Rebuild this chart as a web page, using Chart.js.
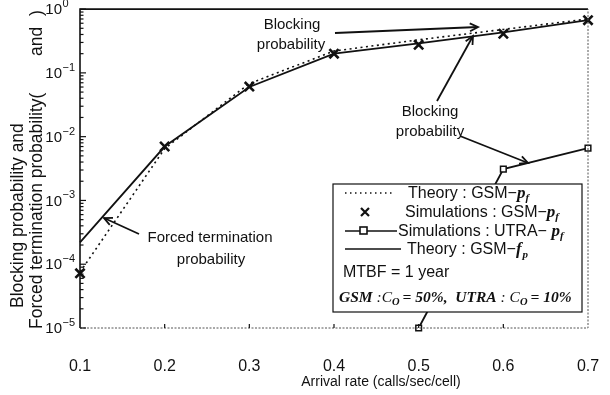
<!DOCTYPE html>
<html>
<head>
<meta charset="utf-8">
<script src="https://cdn.jsdelivr.net/npm/chart.js@4.4.0/dist/chart.umd.min.js"></script>
<style>
  html, body { margin: 0; padding: 0; background: #fff; }
  #wrap { width: 610px; height: 395px; position: relative; }
</style>
</head>
<body>
<div id="wrap"><canvas id="myChart"></canvas></div>
<script>
// data
const arrivalRate = [0.1, 0.2, 0.3, 0.4, 0.5, 0.6, 0.7];
const theoryGsmPf = [7.5e-5, 6.5e-3, 0.068, 0.22, 0.33, 0.48, 0.70];
const simGsmPf    = [7.2e-5, 7.0e-3, 0.061, 0.20, 0.275, 0.41, 0.67];
const theoryGsmFp = [2.2e-4, 7.0e-3, 0.060, 0.20, 0.29, 0.43, 0.67];
const utraRate    = [0.5, 0.6, 0.7];
const simUtraPf   = [1.0e-5, 3.1e-3, 6.6e-3];
const yDecades    = [-5, -4, -3, -2, -1, 0];

const SANS = '"Liberation Sans", Arial, sans-serif';
const SERIF = '"Liberation Serif", "Times New Roman", serif';

function pts(xs, ys) {
  return xs.map((x, i) => ({ x: x, y: ys[i] }));
}

// draws a run of text pieces with different fonts
function rich(ctx, x, y, parts) {
  ctx.textAlign = 'left';
  ctx.textBaseline = 'alphabetic';
  parts.forEach(p => {
    ctx.font = p.f;
    ctx.fillText(p.t, x, y + (p.dy || 0));
    x += ctx.measureText(p.t).width + (p.gap || 0);
  });
}

function arrow(ctx, x1, y1, x2, y2) {
  ctx.beginPath();
  ctx.moveTo(x1, y1);
  ctx.lineTo(x2, y2);
  ctx.stroke();
  const a = Math.atan2(y2 - y1, x2 - x1);
  const L = 9, w = 0.45;
  ctx.beginPath();
  ctx.moveTo(x2 - L * Math.cos(a - w), y2 - L * Math.sin(a - w));
  ctx.lineTo(x2, y2);
  ctx.lineTo(x2 - L * Math.cos(a + w), y2 - L * Math.sin(a + w));
  ctx.stroke();
}

const decor = {
  id: 'decor',
  afterDatasetsDraw(chart) {
    const ctx = chart.ctx;
    const xs = chart.scales.x, ys = chart.scales.y;
    const ca = chart.chartArea;
    ctx.save();
    ctx.fillStyle = '#111';
    ctx.strokeStyle = '#111';

    // frame: solid top/left, dotted bottom/right
    ctx.lineWidth = 1.6;
    ctx.beginPath();
    ctx.moveTo(ca.left, ca.bottom);
    ctx.lineTo(ca.left, ca.top);
    ctx.lineTo(ca.right, ca.top);
    ctx.stroke();
    ctx.lineWidth = 1;
    ctx.strokeStyle = '#555';
    ctx.setLineDash([2, 1.5]);
    ctx.beginPath();
    ctx.moveTo(ca.left, ca.bottom);
    ctx.lineTo(ca.right, ca.bottom);
    ctx.lineTo(ca.right, ca.top);
    ctx.stroke();
    ctx.setLineDash([]);
    ctx.strokeStyle = '#111';

    // inward ticks on the y axis
    ctx.lineWidth = 1.2;
    yDecades.forEach(d => {
      for (let m = 1; m <= 9; m++) {
        const v = m * Math.pow(10, d);
        if (v > 1.0001) break;
        const py = ys.getPixelForValue(v);
        ctx.beginPath();
        ctx.moveTo(ca.left, py);
        ctx.lineTo(ca.left + (m === 1 ? 6 : 3.5), py);
        ctx.stroke();
      }
    });
    // inward ticks on the x axis
    arrivalRate.slice(1, -1).forEach(v => {
      const px = xs.getPixelForValue(v);
      ctx.beginPath();
      ctx.moveTo(px, ca.bottom);
      ctx.lineTo(px, ca.bottom - 4);
      ctx.stroke();
    });

    // y tick labels 10^n
    yDecades.forEach(d => {
      const py = ys.getPixelForValue(Math.pow(10, d));
      ctx.font = '15px ' + SANS;
      ctx.textAlign = 'right';
      ctx.textBaseline = 'middle';
      ctx.fillText('10', 62, py + 1);
      ctx.font = '11px ' + SANS;
      ctx.textAlign = 'left';
      ctx.fillText(d === 0 ? '0' : '\u2212' + Math.abs(d), 62.5, py - 5);
    });

    // axis titles
    ctx.font = '14px ' + SANS;
    ctx.textAlign = 'center';
    ctx.textBaseline = 'middle';
    ctx.fillText('Arrival rate (calls/sec/cell)', 381, 382);

    ctx.save();
    ctx.rotate(-Math.PI / 2);
    ctx.font = '17.5px ' + SANS;
    ctx.textAlign = 'left';
    ctx.textBaseline = 'middle';
    ctx.fillText('Blocking probability and', -308, 18);
    ctx.fillText('Forced termination probability(', -329, 37);
    ctx.fillText('and', -56, 37);
    ctx.fillText(')', -16, 37);
    ctx.restore();

    // annotations
    ctx.font = '15px ' + SANS;
    ctx.textAlign = 'center';
    ctx.textBaseline = 'middle';
    ctx.fillText('Blocking', 292, 25);
    ctx.fillText('probability', 291, 45);
    ctx.fillText('Blocking', 430, 112);
    ctx.fillText('probability', 430, 132);
    ctx.fillText('Forced termination', 210, 238);
    ctx.fillText('probability', 211, 260);
    ctx.lineWidth = 1.8;
    arrow(ctx, 335, 33, 478, 27);
    arrow(ctx, 437, 101, 473, 36);
    arrow(ctx, 460, 136, 528, 163);
    arrow(ctx, 139, 234, 104, 218);

    // legend box
    const bx = 333, by = 184, bw = 249, bh = 128;
    ctx.fillStyle = '#fff';
    ctx.fillRect(bx, by, bw, bh);
    ctx.lineWidth = 1.2;
    ctx.strokeRect(bx, by, bw, bh);
    ctx.fillStyle = '#111';

    const sub = 'italic bold 11px ' + SERIF;
    const pItal = 'italic bold 17px ' + SERIF;
    const txt = '16px ' + SANS;

    // row 1: dotted theory pf
    ctx.lineWidth = 1.5;
    ctx.setLineDash([1.5, 3.5]);
    ctx.beginPath(); ctx.moveTo(345, 193); ctx.lineTo(394, 193); ctx.stroke();
    ctx.setLineDash([]);
    rich(ctx, 408, 198, [
      { t: 'Theory : GSM\u2212', f: txt },
      { t: 'p', f: pItal },
      { t: 'f', f: sub, dy: 3 }
    ]);
    // row 2: simulation marker
    ctx.lineWidth = 2.2;
    ctx.beginPath();
    ctx.moveTo(361, 208); ctx.lineTo(369, 216);
    ctx.moveTo(369, 208); ctx.lineTo(361, 216);
    ctx.stroke();
    rich(ctx, 405, 217, [
      { t: 'Simulations : GSM\u2212', f: txt },
      { t: 'p', f: pItal },
      { t: 'f', f: sub, dy: 3 }
    ]);
    // row 3: UTRA line with square
    ctx.lineWidth = 1.6;
    ctx.beginPath(); ctx.moveTo(345, 231); ctx.lineTo(397, 231); ctx.stroke();
    ctx.fillStyle = '#fff';
    ctx.fillRect(360, 227, 7, 7);
    ctx.strokeRect(360, 227, 7, 7);
    ctx.fillStyle = '#111';
    rich(ctx, 398, 236, [
      { t: 'Simulations : UTRA\u2212 ', f: txt },
      { t: 'p', f: pItal },
      { t: 'f', f: sub, dy: 3 }
    ]);
    // row 4: solid theory fp
    ctx.beginPath(); ctx.moveTo(345, 249); ctx.lineTo(401, 249); ctx.stroke();
    rich(ctx, 407, 254, [
      { t: 'Theory : GSM\u2212', f: txt },
      { t: 'f', f: pItal, gap: 1 },
      { t: 'p', f: sub, dy: 4 }
    ]);
    rich(ctx, 343, 277, [{ t: 'MTBF = 1 year', f: txt }]);
    const it = 'italic bold 15.5px ' + SERIF;
    const itn = 'italic 15.5px ' + SERIF;
    const sb = 'italic bold 10.5px ' + SERIF;
    rich(ctx, 339, 302, [
      { t: 'GSM', f: it },
      { t: ' :C', f: itn },
      { t: 'O', f: sb, dy: 3, gap: 3 },
      { t: '= 50%,  ', f: it },
      { t: 'UTRA', f: it },
      { t: ' : C', f: itn },
      { t: 'O', f: sb, dy: 3, gap: 3 },
      { t: '= 10%', f: it }
    ]);

    ctx.restore();
  }
};

const ctx = document.getElementById('myChart').getContext('2d');

let myChart = new Chart(ctx, {
  type: 'line',
  data: {
    datasets: [
      {
        label: 'Theory : GSM-pf',
        data: pts(arrivalRate, theoryGsmPf),
        borderColor: '#111',
        borderWidth: 1.6,
        borderDash: [2, 3.5],
        pointRadius: 0,
        tension: 0,
        clip: false
      },
      {
        label: 'Simulations : GSM-pf',
        data: pts(arrivalRate, simGsmPf),
        showLine: false,
        pointStyle: 'crossRot',
        pointRadius: 6.5,
        pointBorderWidth: 2.6,
        pointBorderColor: '#111',
        clip: false
      },
      {
        label: 'Simulations : UTRA-pf',
        data: pts(utraRate, simUtraPf),
        borderColor: '#111',
        borderWidth: 1.8,
        pointStyle: 'rect',
        pointRadius: 4,
        pointBorderWidth: 1.5,
        pointBorderColor: '#111',
        pointBackgroundColor: '#fff',
        tension: 0,
        clip: false
      },
      {
        label: 'Theory : GSM-fp',
        data: pts(arrivalRate, theoryGsmFp),
        borderColor: '#111',
        borderWidth: 1.8,
        pointRadius: 0,
        tension: 0,
        clip: false
      }
    ]
  },
  options: {
    responsive: true,
    maintainAspectRatio: false,
    animation: false,
    layout: { padding: { top: 7, right: 22, left: 0, bottom: 0 } },
    plugins: {
      legend: { display: false },
      tooltip: { enabled: false }
    },
    scales: {
      x: {
        type: 'linear',
        min: 0.1,
        max: 0.7,
        grid: { display: false },
        border: { display: false },
        ticks: {
          stepSize: 0.1,
          padding: 21,
          color: '#111',
          font: { family: SANS, size: 16 },
          callback: v => v.toFixed(1)
        },
        afterFit: s => { s.height = 67; s.paddingLeft = 0; s.paddingRight = 0; }
      },
      y: {
        type: 'logarithmic',
        min: 1e-5,
        max: 1,
        grid: { display: false },
        border: { display: false },
        ticks: { display: false },
        afterFit: s => { s.width = 80; s.paddingTop = 0; s.paddingBottom = 0; }
      }
    }
  },
  plugins: [decor]
});
</script>
</body>
</html>
